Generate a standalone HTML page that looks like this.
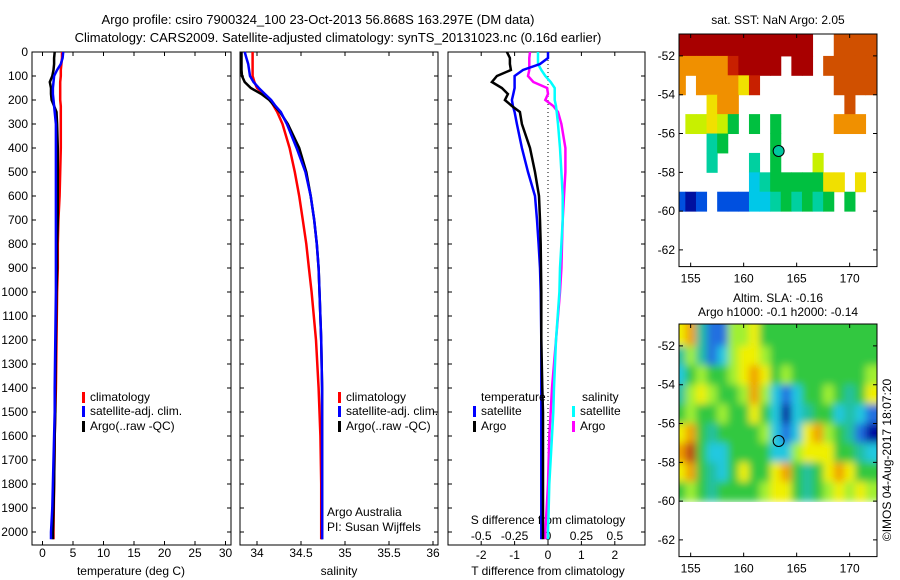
<!DOCTYPE html>
<html><head><meta charset="utf-8"><style>
body{margin:0;background:#fff;}
svg{display:block;font-family:"Liberation Sans",sans-serif;}
text{font-size:12px;fill:#000;}
</style></head><body>
<svg id="s" width="900" height="580" viewBox="0 0 900 580">
<defs>
<filter id="blur" x="-10%" y="-10%" width="120%" height="120%"><feGaussianBlur stdDeviation="4"/></filter>
<clipPath id="slaclip"><rect x="679" y="324" width="198" height="178"/></clipPath>
</defs>
<text x="318" y="24" text-anchor="middle" style="font-size:13px">Argo profile: csiro 7900324_100 23-Oct-2013 56.868S 163.297E (DM data)</text>
<text x="338" y="42" text-anchor="middle" style="font-size:13px">Climatology: CARS2009. Satellite-adjusted climatology: synTS_20131023.nc (0.16d earlier)</text>
</svg>
<script>
// ---------- data ----------
const depths = [0,25,50,75,100,125,150,175,200,225,250,300,400,500,600,700,800,900,1000,1200,1400,1500,1600,1800,1900,2000,2030];
const tempClim = [3.2,3.2,3.1,3.0,3.0,2.9,2.9,2.9,2.9,3.0,3.0,3.0,3.0,2.9,2.8,2.6,2.5,2.5,2.4,2.3,2.2,2.1,2.0,1.9,1.85,1.8,1.8];
const tempSat = [3.4,3.3,3.0,2.4,1.9,1.8,1.7,1.7,1.8,1.9,2.0,2.2,2.2,2.2,2.2,2.2,2.2,2.2,2.2,2.1,2.0,2.0,1.9,1.7,1.6,1.4,1.4];
const tempArgo = [2.0,1.9,1.9,1.8,1.6,1.2,1.4,1.4,1.5,1.9,2.3,2.4,2.5,2.5,2.5,2.5,2.4,2.4,2.3,2.2,2.1,2.1,2.0,1.9,1.8,1.7,1.7];
const salClim = [33.95,33.95,33.95,33.95,33.95,33.97,34.0,34.08,34.15,34.19,34.23,34.29,34.37,34.43,34.48,34.52,34.56,34.59,34.62,34.67,34.7,34.71,34.72,34.73,34.73,34.73,34.73];
const salSat = [33.86,33.88,33.9,33.91,33.92,33.96,34.02,34.09,34.16,34.21,34.27,34.34,34.45,34.55,34.61,34.65,34.68,34.7,34.71,34.73,34.74,34.74,34.74,34.74,34.74,34.74,34.74];
const salArgo = [33.82,33.82,33.82,33.82,33.83,33.86,33.93,34.05,34.14,34.2,34.26,34.35,34.48,34.56,34.61,34.65,34.68,34.7,34.71,34.73,34.74,34.74,34.74,34.74,34.74,34.74,34.74];
const dTsat = [0,0,-0.24,-0.75,-1.0,-1.0,-1.0,-1.04,-1.08,-1.05,-1.0,-0.93,-0.78,-0.6,-0.39,-0.33,-0.28,-0.24,-0.22,-0.2,-0.2,-0.2,-0.2,-0.2,-0.2,-0.2,-0.2];
const dTargo = [-1.23,-1.14,-1.14,-1.11,-1.53,-1.68,-1.38,-1.2,-1.29,-1.08,-0.84,-0.78,-0.54,-0.39,-0.27,-0.24,-0.22,-0.21,-0.2,-0.2,-0.17,-0.15,-0.15,-0.15,-0.15,-0.15,-0.15];
const dSsat = [-0.075,-0.075,-0.075,-0.05,-0.02,0.02,0.05,0.05,0.05,0.06,0.065,0.075,0.09,0.1,0.11,0.11,0.1,0.09,0.085,0.06,0.045,0.04,0.03,0.01,0.005,0,0];
const dSargo = [-0.135,-0.14,-0.14,-0.14,-0.15,-0.11,-0.007,0,-0.02,0.04,0.075,0.1,0.13,0.13,0.12,0.11,0.105,0.1,0.09,0.06,0.03,0.02,0.01,0,-0.01,-0.02,-0.02];
const depthTicks = [0,100,200,300,400,500,600,700,800,900,1000,1100,1200,1300,1400,1500,1600,1700,1800,1900,2000];
const tempTicks = [0,5,10,15,20,25,30];
const salTicks = [34,34.5,35,35.5,36];
const salTickLabels = ["34","34.5","35","35.5","36"];
const dTTicks = [-2,-1,0,1,2];
const dSTicks = [-0.5,-0.25,0,0.25,0.5];
const dSTickLabels = ["-0.5","-0.25","0","0.25","0.5"];
const latTicks = [52,54,56,58,60,62];
const lonTicks = [155,160,165,170];
const gridLons = [154,155,156,157,158,159,160,161,162,163,164,165,166,167,168,169,170,171,172];
const gridLats = [51,52,53,54,55,56,57,58,59];
const sstRows = ["RRRRRRRRRRRRR..OOOO","ooooorRRRR.RR.OOOOO","o.ooooyr.......OOOO","...yoo..........O..",".llylg.g.g.....ooo.","...tg....g.........","...t...t.g...l.....",".......ctgggggyy.y.","bBb.bbbcctgtgtg.g.."];
const slaRows = ["yotbbGGyggggggggggg","tGtbcGyyGgggggggggg","cgGggGyoygGgggggggG","tGyGggGoGcbcggGgtgy","gGggGggygcBctggctcb","yogtggggGcbcyoGgtbB","orgccggggccGyyyggtc","yogtcgyggyogtgyoygg","gGgtggggGyygtgGyGyG"];
const argoLon = [163.3];
const argoLat = [56.9];
// ---------- helpers ----------
const svg = document.getElementById('s');
const NS = 'http://www.w3.org/2000/svg';
function mk(tag, attrs, txt, parent){const e=document.createElementNS(NS,tag);for(const k in attrs)e.setAttribute(k,attrs[k]);if(txt!==undefined)e.textContent=txt;(parent||svg).appendChild(e);return e;}
const Y0=52, YS=0.24;
const yD = d => Y0 + d*YS;
const PB = 545;
function frame(x0,x1,name){
  const r=mk('rect',{x:x0,y:Y0,width:x1-x0,height:PB-Y0,fill:'none',stroke:'#000','stroke-width':1});
  
  
  depthTicks.forEach(d=>{
    const l=mk('path',{d:`M${x0} ${yD(d)}h4M${x1} ${yD(d)}h-4`,stroke:'#000'});
    
    
  });
}
function line(xs, xf, color, name, w, clipX){
  const pts = depths.map((d,i)=>Math.max(clipX||-1e9, xf(xs[i])).toFixed(1)+','+yD(d).toFixed(1)).join(' ');
  const p=mk('polyline',{points:pts,fill:'none',stroke:color,'stroke-width':w||2.5,'stroke-linejoin':'miter'});
  
  
}
function xticks(vals, labels, xf, x0, x1, yLab, name){
  vals.forEach((v,i)=>{
    const x=xf(v);
    const t=mk('path',{d:`M${x} ${PB}v-4M${x} ${Y0}v4`,stroke:'#000'});
    
    
    const tx=mk('text',{x:x,y:yLab,'text-anchor':'middle'},labels[i]);
    
    
  });
}
function legend(x,y,color,label){
  if(color){
    const b=mk('rect',{x:x,y:y-9,width:3,height:11,fill:color});
    
    
  }
  const t=mk('text',{x:x+8,y:y},label);
  
  
}
// ---------- panel 1 ----------
const xT = v => 42.5 + v*6.1;
frame(32,231,'temperature-panel');
depthTicks.forEach(d=>{
  const t=mk('text',{x:28,y:yD(d)+4,'text-anchor':'end'},String(d));
  
  
});
xticks(tempTicks, tempTicks.map(String), xT, 32, 231, 557, 'temp-axis');
let t1=mk('text',{x:131,y:575,'text-anchor':'middle'},'temperature (deg C)');


line(tempClim, xT, '#f00', 'temp-climatology-line');
line(tempArgo, xT, '#000', 'temp-argo-line');
line(tempSat, xT, '#00f', 'temp-satellite-line');
legend(82,401,'#f00','climatology');
legend(82,415,'#00f','satellite-adj. clim.');
legend(82,430,'#000','Argo(..raw -QC)');
// ---------- panel 2 ----------
const xS = v => 257 + (v-34)*88;
frame(240,438,'salinity-panel');
xticks(salTicks, salTickLabels, xS, 240, 438, 557, 'sal-axis');
let t2=mk('text',{x:339,y:575,'text-anchor':'middle'},'salinity');


line(salClim, xS, '#f00', 'sal-climatology-line', 2.5, 241.5);
line(salArgo, xS, '#000', 'sal-argo-line', 2.5, 241.5);
line(salSat, xS, '#00f', 'sal-satellite-line', 2.5, 241.5);
legend(338,401,'#f00','climatology');
legend(338,415,'#00f','satellite-adj. clim.');
legend(338,430,'#000','Argo(..raw -QC)');
let a1=mk('text',{x:327,y:516},'Argo Australia');


let a2=mk('text',{x:327,y:531},'PI: Susan Wijffels');


// ---------- panel 3 ----------
const xdT = v => 548 + v*33.4;
const xdS = v => 548 + v*133.6;
frame(448,645,'difference-panel');
let zl=mk('line',{x1:548,x2:548,y1:Y0,y2:PB,stroke:'#000','stroke-dasharray':'1,3'});


xticks(dTTicks, dTTicks.map(String), xdT, 448, 645, 559, 'dT-axis');
dSTicks.forEach((v,i)=>{
  const t=mk('text',{x:xdS(v),y:540,'text-anchor':'middle'},dSTickLabels[i]);
  
  
});
let t3=mk('text',{x:548,y:524,'text-anchor':'middle'},'S difference from climatology');


let t4=mk('text',{x:548,y:575,'text-anchor':'middle'},'T difference from climatology');


line(dSargo, xdS, '#f0f', 'dS-argo-line');
line(dSsat, xdS, '#0ff', 'dS-satellite-line');
line(dTsat, xdT, '#00f', 'dT-satellite-line');
line(dTargo, xdT, '#000', 'dT-argo-line');
legend(473,401,null,'temperature');
legend(473,415,'#00f','satellite');
legend(473,430,'#000','Argo');
legend(574,401,null,'salinity');
legend(572,415,'#0ff','satellite');
legend(572,430,'#f0f','Argo');
// ---------- maps ----------
const MX0=679, MX1=877;
const lonX = v => MX0 + (v-153.9)*10.6;
const COL = {R:'#a80000',r:'#c82000',o:'#f09000',O:'#d05000',y:'#f0e000',l:'#c8f000',g:'#00c040',t:'#00d0a0',c:'#00c8e8',b:'#0050e0',B:'#0010a0',G:'#a0f040'};
const SLACOL = {g:'#30c840',G:'#a0f030',y:'#f0f000',o:'#f0a000',r:'#c04010',t:'#20c0a0',c:'#20c8e0',b:'#2070e0',B:'#0010a0'};
function map(top, rows, cols, name, smooth){
  const latY = v => top + (v-50.87)*19.4;
  let parent = svg;
  if(smooth){
    const outer=mk('g',{'clip-path':'url(#slaclip)'});
    
    
    parent=mk('g',{filter:'url(#blur)'},undefined,outer);
  }
  rows.forEach((row,ri)=>{
    for(let ci=0;ci<gridLons.length;ci++){
      const ch=row[ci]; if(!ch||ch==='.') continue;
      const lat=gridLats[ri], lon=gridLons[ci];
      let y1=ri===0?top:latY(lat), y2=latY(lat+1);
      let x1=Math.max(MX0,lonX(lon-0.5)), x2=Math.min(MX1,lonX(lon+0.5));
      if(smooth){ if(ci===0)x1-=12; if(ci===gridLons.length-1)x2+=12; if(ri===0)y1-=12; }
      const c=mk('rect',{x:x1,y:y1,width:x2-x1+0.5,height:y2-y1+0.5,fill:cols[ch]},undefined,parent);
      
      
    }
  });
  const bottom = latY(62.86);
  const f=mk('rect',{x:MX0,y:top,width:MX1-MX0,height:bottom-top,fill:'none',stroke:'#000'});
  
  
  latTicks.forEach(v=>{
    const y=latY(v);
    const t=mk('path',{d:`M${MX0} ${y}h4M${MX1} ${y}h-4`,stroke:'#000'});
    
    
    const tx=mk('text',{x:675,y:y+4,'text-anchor':'end'},'-'+v);
    
    
  });
  lonTicks.forEach(v=>{
    const x=lonX(v);
    const t=mk('path',{d:`M${x} ${top}v4M${x} ${bottom}v-4`,stroke:'#000'});
    
    
    const tx=mk('text',{x:x,y:bottom+16,'text-anchor':'middle'},String(v));
    
    
  });
  const m=mk('circle',{cx:lonX(argoLon[0]),cy:latY(argoLat[0]),r:5.5,fill:name==='sst-map'?'#00c8a0':'none',stroke:'#000','stroke-width':1});
  
  
}
map(34, sstRows, COL, 'sst-map', false);
map(324, slaRows, SLACOL, 'sla-map', true);
let mt1=mk('text',{x:778,y:24,'text-anchor':'middle'},'sat. SST: NaN Argo: 2.05');


let mt2=mk('text',{x:778,y:302,'text-anchor':'middle'},'Altim. SLA: -0.16');


let mt3=mk('text',{x:778,y:316,'text-anchor':'middle'},'Argo h1000: -0.1 h2000: -0.14');


let cr=mk('text',{x:0,y:0,'text-anchor':'middle',transform:'translate(891,460) rotate(-90)'},'©IMOS 04-Aug-2017 18:07:20');


</script>
</body></html>
